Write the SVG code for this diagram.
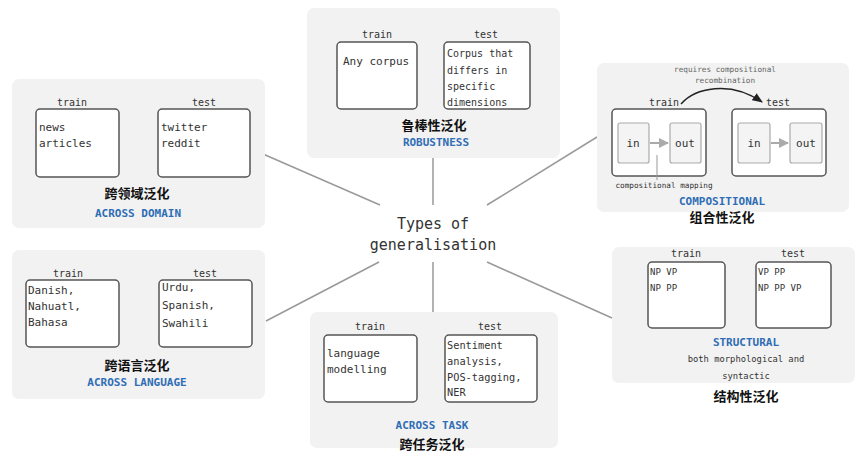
<svg xmlns="http://www.w3.org/2000/svg" width="856" height="453" viewBox="0 0 856 453">
<defs>
<style>
.panel{fill:#f2f2f2;stroke:none}
.box{fill:#fff;stroke:#555;stroke-width:1.5}
.ibox{fill:#f4f4f4;stroke:#aaa;stroke-width:1.2}
.m{font-family:"DejaVu Sans Mono","Liberation Mono",monospace;fill:#333}
.lbl{font-size:10px;text-anchor:middle}
.t11{font-size:11px}
.blue{font-family:"DejaVu Sans Mono","Liberation Mono",monospace;font-size:11px;font-weight:bold;fill:#2f6db5;text-anchor:middle}
.cn{font-family:"Noto Sans CJK SC","Noto Sans",sans-serif;font-size:13px;font-weight:bold;fill:#111;text-anchor:middle}
.gray{fill:#666}
.conn{stroke:#999;stroke-width:1.5;fill:none}
</style>
<marker id="ah" viewBox="0 0 10 10" refX="9" refY="5" markerWidth="7" markerHeight="7" orient="auto"><path d="M0,1 L10,5 L0,9 z" fill="#222"/></marker>
<marker id="ahg" viewBox="0 0 10 10" refX="9" refY="5" markerWidth="5" markerHeight="5" orient="auto"><path d="M0,0 L10,5 L0,10 z" fill="#aaa"/></marker>
</defs>
<rect width="856" height="453" fill="#fff"/>

<g id="connectors">
<line class="conn" x1="263" y1="154" x2="380" y2="205"/>
<line class="conn" x1="433" y1="158" x2="433" y2="205"/>
<line class="conn" x1="487" y1="205" x2="597" y2="137"/>
<line class="conn" x1="266" y1="321" x2="379" y2="262"/>
<line class="conn" x1="433" y1="262" x2="433" y2="312"/>
<line class="conn" x1="487" y1="262" x2="612" y2="318"/>
</g>

<g id="center">
<text class="m" x="433" y="229" font-size="15" text-anchor="middle" fill="#222">Types of</text>
<text class="m" x="433" y="250" font-size="15" text-anchor="middle" fill="#222">generalisation</text>
</g>

<g id="across-domain">
<rect class="panel" x="12" y="79" width="253" height="149" rx="7"/>
<text class="m lbl" x="72" y="106">train</text>
<text class="m lbl" x="204" y="106">test</text>
<rect class="box" x="36" y="109" width="83" height="68" rx="4"/>
<rect class="box" x="158" y="109" width="92" height="68" rx="4"/>
<text class="m t11" x="39" y="131">news</text>
<text class="m t11" x="39" y="147">articles</text>
<text class="m t11" x="161" y="131">twitter</text>
<text class="m t11" x="161" y="147">reddit</text>
<text class="cn" x="137" y="198">跨领域泛化</text>
<text class="blue" x="138" y="217">ACROSS DOMAIN</text>
</g>

<g id="robustness">
<rect class="panel" x="307" y="8" width="253" height="150" rx="7"/>
<text class="m lbl" x="377" y="38">train</text>
<text class="m lbl" x="486" y="38">test</text>
<rect class="box" x="337" y="42" width="80" height="67" rx="4"/>
<rect class="box" x="444" y="42" width="86" height="67" rx="4"/>
<text class="m t11" x="343" y="65">Any corpus</text>
<text class="m" font-size="10" x="447" y="57">Corpus that</text>
<text class="m" font-size="10" x="447" y="74">differs in</text>
<text class="m" font-size="10" x="447" y="90">specific</text>
<text class="m" font-size="10" x="447" y="106">dimensions</text>
<text class="cn" x="434" y="130">鲁棒性泛化</text>
<text class="blue" x="436" y="146">ROBUSTNESS</text>
</g>

<g id="compositional">
<rect class="panel" x="597" y="63" width="252" height="149" rx="7"/>
<text class="m gray" font-size="7.7" x="725" y="72" text-anchor="middle">requires compositional</text>
<text class="m gray" font-size="7.7" x="725" y="83" text-anchor="middle">recombination</text>
<path d="M681,104 C695,88 730,80 762,102" fill="none" stroke="#222" stroke-width="1.5" marker-end="url(#ah)"/>
<text class="m lbl" x="664" y="106" fill="#222">train</text>
<text class="m lbl" x="778" y="106" fill="#222">test</text>
<rect class="box" x="612" y="109" width="94" height="67" rx="4"/>
<rect class="ibox" x="618" y="123" width="31" height="40" rx="2"/>
<rect class="ibox" x="670" y="123" width="31" height="40" rx="2"/>
<line x1="650" y1="143" x2="668" y2="143" stroke="#aaa" stroke-width="2" marker-end="url(#ahg)"/>
<text class="m t11" x="633" y="147" text-anchor="middle">in</text>
<text class="m t11" x="685" y="147" text-anchor="middle">out</text>
<rect class="box" x="732" y="109" width="94" height="67" rx="4"/>
<rect class="ibox" x="738" y="123" width="32" height="40" rx="2"/>
<rect class="ibox" x="790" y="123" width="32" height="40" rx="2"/>
<line x1="771" y1="143" x2="788" y2="143" stroke="#aaa" stroke-width="2" marker-end="url(#ahg)"/>
<text class="m t11" x="754" y="147" text-anchor="middle">in</text>
<text class="m t11" x="806" y="147" text-anchor="middle">out</text>
<line x1="657" y1="155" x2="657" y2="180" stroke="#999" stroke-width="1"/>
<text class="m" font-size="7.7" x="664" y="188" text-anchor="middle" fill="#aaa">compositional mapping</text>
<text class="blue" x="722" y="205">COMPOSITIONAL</text>
<text class="cn" x="722" y="222">组合性泛化</text>
</g>

<g id="across-language">
<rect class="panel" x="12" y="250" width="253" height="149" rx="7"/>
<text class="m lbl" x="68" y="277">train</text>
<text class="m lbl" x="205" y="277">test</text>
<rect class="box" x="26" y="280" width="93" height="67" rx="4"/>
<rect class="box" x="159" y="280" width="93" height="67" rx="4"/>
<text class="m t11" x="28" y="294">Danish,</text>
<text class="m t11" x="28" y="310">Nahuatl,</text>
<text class="m t11" x="28" y="326">Bahasa</text>
<text class="m t11" x="162" y="291">Urdu,</text>
<text class="m t11" x="162" y="309">Spanish,</text>
<text class="m t11" x="162" y="327">Swahili</text>
<text class="cn" x="137" y="370">跨语言泛化</text>
<text class="blue" x="137" y="386">ACROSS LANGUAGE</text>
</g>

<g id="across-task">
<rect class="panel" x="310" y="312" width="248" height="136" rx="7"/>
<text class="m lbl" x="370" y="330">train</text>
<text class="m lbl" x="490" y="330">test</text>
<rect class="box" x="324" y="335" width="93" height="67" rx="4"/>
<rect class="box" x="445" y="335" width="92" height="67" rx="4"/>
<text class="m t11" x="327" y="357">language</text>
<text class="m t11" x="327" y="373">modelling</text>
<text class="m" font-size="10.3" x="447" y="349">Sentiment</text>
<text class="m" font-size="10.3" x="447" y="365">analysis,</text>
<text class="m" font-size="10.3" x="447" y="381">POS-tagging,</text>
<text class="m" font-size="10.3" x="447" y="396">NER</text>
<text class="blue" x="432" y="429">ACROSS TASK</text>
<text class="cn" x="432" y="449" font-size="12">跨任务泛化</text>
</g>

<g id="structural">
<rect class="panel" x="612" y="247" width="243" height="136" rx="7"/>
<text class="m lbl" x="686" y="257">train</text>
<text class="m lbl" x="793" y="257">test</text>
<rect class="box" x="648" y="262" width="77" height="66" rx="4"/>
<rect class="box" x="756" y="262" width="75" height="66" rx="4"/>
<text class="m" font-size="9" x="650" y="275">NP VP</text>
<text class="m" font-size="9" x="650" y="291">NP PP</text>
<text class="m" font-size="9" x="758" y="275">VP PP</text>
<text class="m" font-size="9" x="758" y="291">NP PP VP</text>
<text class="blue" x="746" y="346">STRUCTURAL</text>
<text class="m" font-size="8.8" x="746" y="362" text-anchor="middle">both morphological and</text>
<text class="m" font-size="8.8" x="746" y="379" text-anchor="middle">syntactic</text>
<text class="cn" x="746" y="401">结构性泛化</text>
</g>
</svg>
